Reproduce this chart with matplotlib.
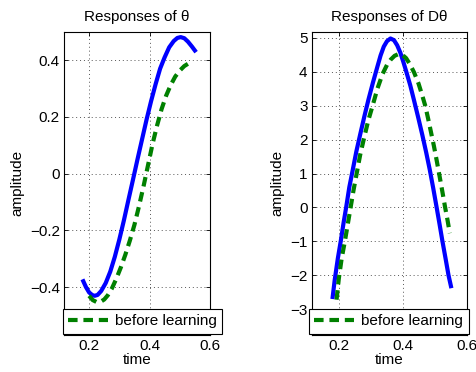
import matplotlib
matplotlib.use("Agg")
import matplotlib.pyplot as plt

plt.rcParams['font.family'] = ['Liberation Sans', 'DejaVu Sans']

# Left panel: responses of theta
t_theta_after = [0.178, 0.19, 0.20, 0.21, 0.218, 0.228, 0.24, 0.255, 0.27, 0.285, 0.30, 0.315, 0.33,
                 0.345, 0.36, 0.375, 0.39, 0.405, 0.42, 0.435, 0.45, 0.465, 0.48, 0.492, 0.503, 0.515,
                 0.527, 0.54, 0.554]
v_theta_after = [-0.372, -0.40, -0.418, -0.427, -0.430, -0.427, -0.413, -0.385, -0.345, -0.293, -0.232,
                 -0.165, -0.093, -0.022, 0.05, 0.12, 0.19, 0.255, 0.315, 0.37, 0.41, 0.445, 0.467, 0.478,
                 0.481, 0.477, 0.465, 0.448, 0.428]
t_theta_before = [0.200, 0.212, 0.225, 0.238, 0.25, 0.262, 0.275, 0.29, 0.305, 0.32, 0.335, 0.35, 0.365,
                  0.38, 0.395, 0.41, 0.425, 0.44, 0.455, 0.47, 0.485, 0.50, 0.515, 0.53, 0.542]
v_theta_before = [-0.430, -0.445, -0.452, -0.451, -0.443, -0.428, -0.405, -0.37, -0.33, -0.285, -0.235,
                  -0.18, -0.115, -0.045, 0.03, 0.105, 0.17, 0.228, 0.275, 0.312, 0.342, 0.363, 0.379,
                  0.389, 0.394]

# Right panel: responses of D theta
t_dtheta_after = [0.179, 0.186, 0.196, 0.205, 0.214, 0.222, 0.232, 0.243, 0.254, 0.266, 0.279, 0.292,
                  0.306, 0.32, 0.33, 0.34, 0.35, 0.361, 0.372, 0.382, 0.392, 0.401, 0.41, 0.423, 0.435,
                  0.448, 0.461, 0.473, 0.484, 0.495, 0.505, 0.515, 0.524, 0.534, 0.543, 0.552]
v_dtheta_after = [-2.70, -2.15, -1.5, -1.0, -0.45, 0.0, 0.6, 1.12, 1.65, 2.15, 2.68, 3.18, 3.68, 4.15,
                  4.48, 4.74, 4.9, 4.98, 4.93, 4.78, 4.56, 4.3, 4.02, 3.6, 3.15, 2.65, 2.13, 1.62, 1.12,
                  0.57, 0.04, -0.5, -1.0, -1.52, -2.0, -2.38]
t_dtheta_before = [0.192, 0.199, 0.208, 0.218, 0.227, 0.236, 0.245, 0.256, 0.266, 0.277, 0.291, 0.305,
                   0.32, 0.336, 0.35, 0.362, 0.374, 0.386, 0.398, 0.41, 0.422, 0.435, 0.449, 0.46, 0.47,
                   0.479, 0.488, 0.497, 0.506, 0.515, 0.524, 0.532, 0.54, 0.547]
v_dtheta_before = [-2.72, -2.1, -1.5, -1.0, -0.5, 0.0, 0.5, 1.05, 1.55, 2.0, 2.55, 3.0, 3.5, 3.93, 4.2,
                   4.36, 4.47, 4.52, 4.5, 4.4, 4.22, 3.98, 3.65, 3.32, 3.0, 2.62, 2.22, 1.82, 1.38, 0.92,
                   0.45, 0.02, -0.38, -0.76]

titles = ["Responses of \u03b8", "Responses of D\u03b8"]
xticks = [0.2, 0.4, 0.6]
xticklabels = ["0.2", "0.4", "0.6"]
yticks_theta = [-0.4, -0.2, 0, 0.2, 0.4]
yticklabels_theta = ["\u22120.4", "\u22120.2", "0", "0.2", "0.4"]
yticks_dtheta = [-3, -2, -1, 0, 1, 2, 3, 4, 5]
yticklabels_dtheta = ["\u22123", "\u22122", "\u22121", "0", "1", "2", "3", "4", "5"]
legend_label = "before learning"

W, H = 476, 372
fig = plt.figure(figsize=(W / 100, H / 100), dpi=100)

def px_rect(x0, x1, ytop, ybot):
    return [x0 / W, 1 - ybot / H, (x1 - x0) / W, (ybot - ytop) / H]

axL = fig.add_axes(px_rect(64, 210, 31.7, 335))
axR = fig.add_axes(px_rect(311.7, 466.7, 31.7, 335))

blue = (0, 0, 1)
green = (0, 0.5, 0)
fs = 11

panels = [
    (axL, t_theta_after, v_theta_after, t_theta_before, v_theta_before, (0.117, 0.6), (-0.568, 0.5),
     yticks_theta, yticklabels_theta, titles[0], 142.5),
    (axR, t_dtheta_after, v_dtheta_after, t_dtheta_before, v_dtheta_before, (0.114, 0.6), (-3.76, 5.18),
     yticks_dtheta, yticklabels_dtheta, titles[1], 388.7),
]

for ax, ta, va, tb, vb, xl, yl, yt, ytl, title, lcx in panels:
    ax.plot(ta, va, color=blue, lw=3.0, solid_capstyle='butt', solid_joinstyle='round')
    hb, = ax.plot(tb, vb, color=green, lw=3.0, ls=(0, (2.3, 1.4)), dash_capstyle='butt')
    ax.set_xlim(*xl)
    ax.set_ylim(*yl)
    ax.set_xticks(xticks)
    ax.set_xticklabels(xticklabels)
    ax.set_yticks(yt)
    ax.set_yticklabels(ytl)
    ax.grid(True, ls=(0, (1, 3)), color='#555555', lw=0.7)
    ax.tick_params(direction='in', top=True, right=True, labelsize=fs, length=3, width=0.6, pad=3)
    for s in ax.spines.values():
        s.set_linewidth(0.8)
    ax.set_title(title, fontsize=fs, pad=8)
    ax.set_xlabel("time", fontsize=fs, labelpad=0)
    ax.set_ylabel("amplitude", fontsize=fs, labelpad=4)
    leg = fig.legend([hb], [legend_label], loc='center', bbox_to_anchor=(lcx / W, 1 - 321.3 / H),
                     fontsize=fs, frameon=True, fancybox=False, framealpha=1, edgecolor='black',
                     handlelength=2.6, borderpad=0.35, handletextpad=0.5, borderaxespad=0)
    leg.get_frame().set_linewidth(0.8)

fig.savefig("out.png", dpi=100)
